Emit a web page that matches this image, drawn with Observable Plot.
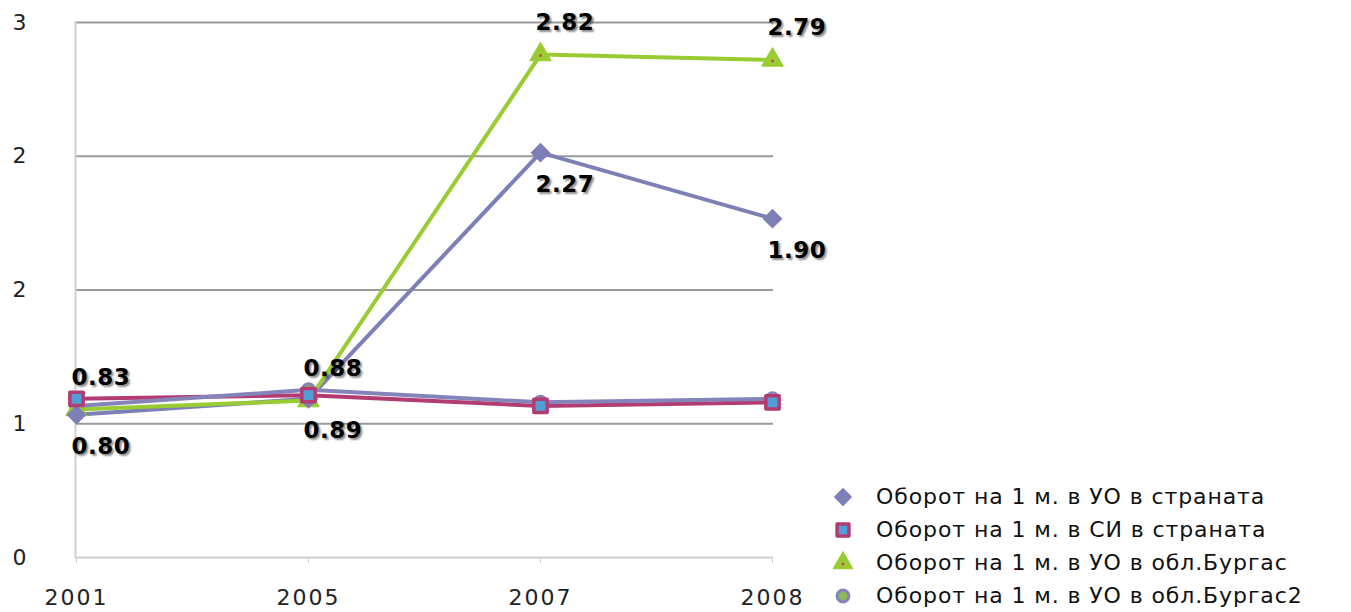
<!DOCTYPE html>
<html>
<head>
<meta charset="utf-8">
<script src="https://cdn.jsdelivr.net/npm/d3@7"></script>
<script src="https://cdn.jsdelivr.net/npm/@observablehq/plot@0.6"></script>
<style>
  html, body { margin: 0; padding: 0; background: #fff; }
  #wrap { position: relative; width: 1351px; height: 612px; font-family: "DejaVu Sans", sans-serif; }
  .lbl text { text-shadow: 2px 2px 2px rgba(0,0,0,0.45); letter-spacing: 0.5px; }
  svg [aria-label="x-axis tick label"] text { letter-spacing: 2px; }
  #legend { position: absolute; left: 826px; top: 480px; font-size: 22px; letter-spacing: 0.9px; color: #111; }
  #legend .row { display: flex; align-items: center; height: 33px; }
  #legend svg { width: 34px; height: 24px; margin-right: 16px; }
</style>
</head>
<body>
<div id="wrap"></div>
<script>
const years = ["2001", "2005", "2007", "2008"];
const seriesNames = [
  "Оборот на 1 м. в УО в страната",
  "Оборот на 1 м. в СИ в страната",
  "Оборот на 1 м. в УО в обл.Бургас",
  "Оборот на 1 м. в УО в обл.Бургас2"
];
const uoCountry = [0.80, 0.89, 2.27, 1.90];
const siCountry = [0.89, 0.91, 0.85, 0.87];
const uoBurgas = [0.83, 0.88, 2.82, 2.79];
const uoBurgas2 = [0.85, 0.94, 0.87, 0.89];
const yTicks = [0, 0.75, 1.5, 2.25, 3];

const colors = ["#7f7fb7", "#b23c72", "#99cc33", "#8484ba"];
const allValues = [uoCountry, siCountry, uoBurgas, uoBurgas2];
const rows = allValues.map((vals, i) => years.map((y, j) => ({year: y, value: vals[j], series: seriesNames[i]})));

const labelAbove = rows[2];
const labelBelow = rows[0];
const fmt = d => d.value.toFixed(2);

const chart = Plot.plot({
  width: 1351,
  height: 612,
  marginLeft: 75,
  marginRight: 578,
  marginTop: 22,
  marginBottom: 55,
  style: {fontFamily: "DejaVu Sans", fontSize: "22px", background: "#fff", overflow: "visible"},
  x: {type: "point", domain: years, padding: 0, label: null},
  y: {domain: [0, 3], label: null},
  marks: [
    Plot.ruleY(yTicks.slice(1), {stroke: "#9a9a9a", strokeWidth: 2}),
    Plot.ruleY([0], {stroke: "#d0d0d0", strokeWidth: 2}),
    Plot.frame({anchor: "left", stroke: "#d0d0d0", strokeWidth: 2}),
    Plot.axisY(yTicks, {tickFormat: d3.format(".0f"), tickSize: 0, tickPadding: 63, textAnchor: "start", fill: "#222", fontSize: 22}),
    Plot.axisX({tickSize: 6, tickPadding: 26, stroke: "#d0d0d0", fill: "#222", fontSize: 22}),
    Plot.line(rows[0], {x: "year", y: "value", stroke: colors[0], strokeWidth: 4}),
    Plot.line(rows[1], {x: "year", y: "value", stroke: colors[1], strokeWidth: 4}),
    Plot.line(rows[2], {x: "year", y: "value", stroke: colors[2], strokeWidth: 4}),
    Plot.line(rows[3], {x: "year", y: "value", stroke: colors[3], strokeWidth: 4}),
    Plot.dot(rows[3], {x: "year", y: "value", symbol: "circle", r: 6, fill: "#8fb955", stroke: colors[3], strokeWidth: 3}),
    Plot.dot(rows[2], {x: "year", y: "value", symbol: "triangle", r: 8, fill: colors[2], stroke: colors[2], strokeWidth: 1}),
    Plot.dot(rows[2], {x: "year", y: "value", r: 1.5, fill: "#c0504d", dy: 1}),
    Plot.dot(rows[0], {x: "year", y: "value", symbol: "diamond2", r: 8, fill: colors[0], stroke: colors[0], strokeWidth: 1.5}),
    Plot.dot(rows[1], {x: "year", y: "value", symbol: "square", r: 7.5, fill: "#4f9fd6", stroke: colors[1], strokeWidth: 3.5, strokeLinejoin: "round"}),
    Plot.text(labelAbove, {x: "year", y: "value", text: fmt, dy: -32, dx: -5, textAnchor: "start", fontWeight: "bold", fontSize: 23, fill: "#000", className: "lbl"}),
    Plot.text(labelBelow, {x: "year", y: "value", text: fmt, dy: 32, dx: -5, textAnchor: "start", fontWeight: "bold", fontSize: 23, fill: "#000", className: "lbl"})
  ]
});

const wrap = document.getElementById("wrap");
wrap.appendChild(chart);

// Legend
const legend = document.createElement("div");
legend.id = "legend";
const symbolDefs = [
  {type: d3.symbolDiamond2, size: 170, fill: colors[0], stroke: colors[0], sw: 1.5},
  {type: d3.symbolSquare, size: 140, fill: "#4f9fd6", stroke: colors[1], sw: 3.5},
  {type: d3.symbolTriangle, size: 170, fill: colors[2], stroke: colors[2], sw: 1, dot: "#c0504d"},
  {type: d3.symbolCircle, size: 110, fill: "#8fb955", stroke: colors[3], sw: 3}
];
seriesNames.forEach((name, i) => {
  const row = document.createElement("div");
  row.className = "row";
  const s = symbolDefs[i];
  const svg = d3.create("svg").attr("viewBox", "-17 -12 34 24");
  svg.append("path").attr("d", d3.symbol(s.type, s.size)()).attr("fill", s.fill).attr("stroke", s.stroke).attr("stroke-width", s.sw).attr("stroke-linejoin", "round");
  if (s.dot) svg.append("circle").attr("r", 1.5).attr("cy", 1).attr("fill", s.dot);
  row.appendChild(svg.node());
  const t = document.createElement("span");
  t.textContent = name;
  row.appendChild(t);
  legend.appendChild(row);
});
wrap.appendChild(legend);
</script>
</body>
</html>
